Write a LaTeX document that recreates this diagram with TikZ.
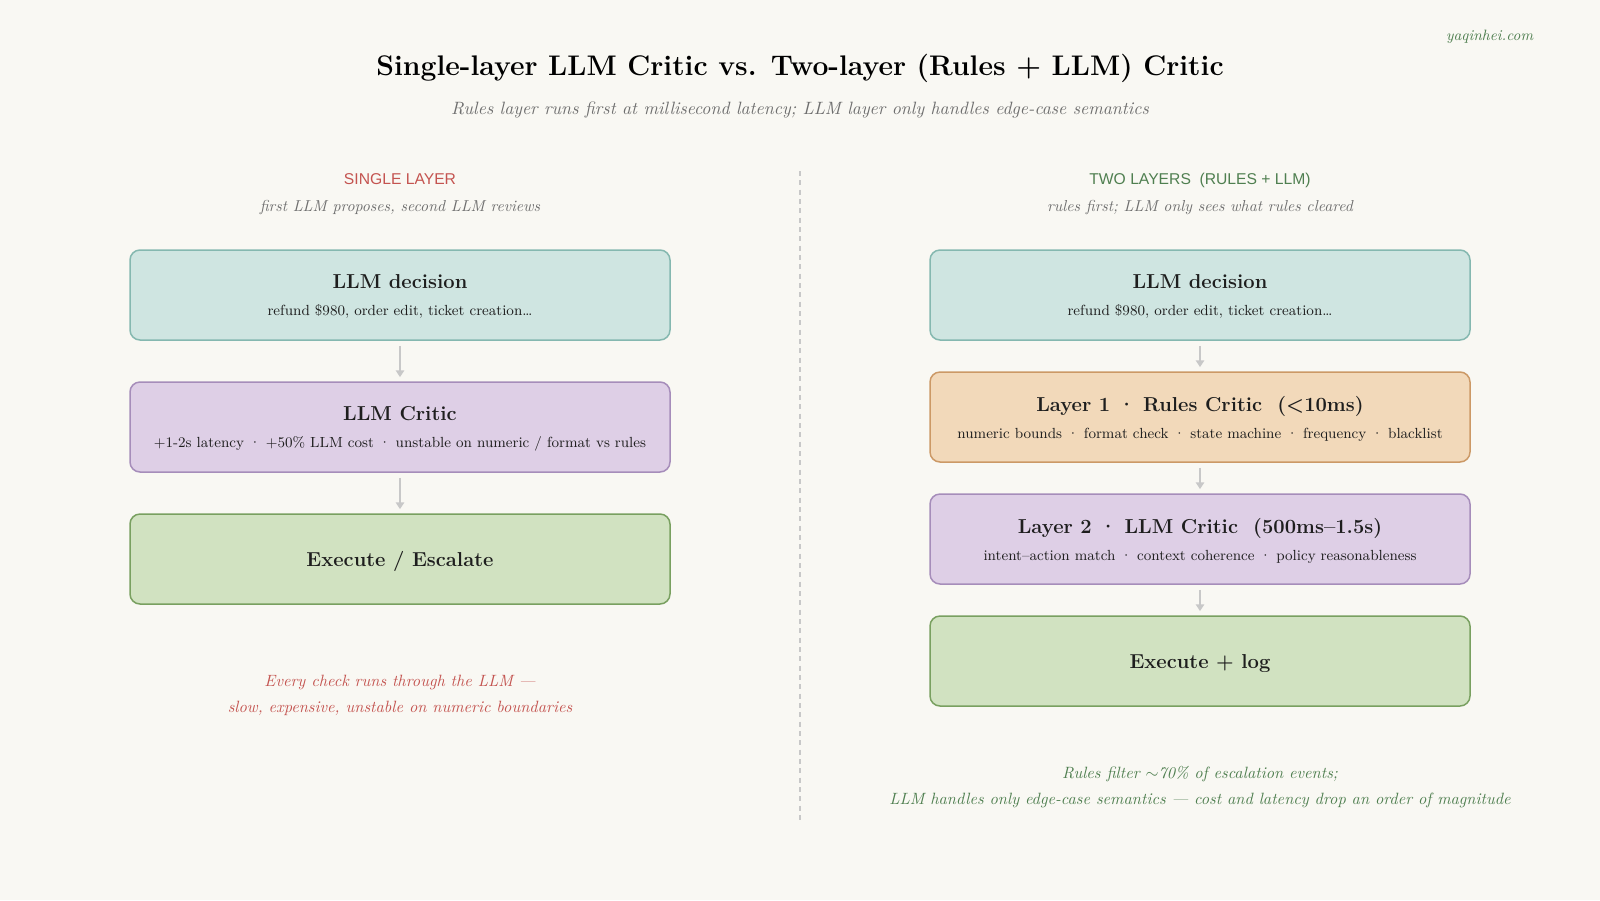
\documentclass[tikz,border=0pt]{standalone}
\usepackage{fontspec}
\usepackage{tikz}
\usetikzlibrary{positioning, arrows.meta, calc}
\newfontfamily\headfont{Liberation Sans}

\definecolor{bgcol}{HTML}{F9F8F3}
\definecolor{tealfill}{HTML}{CFE5E1}
\definecolor{tealline}{HTML}{85B8B0}
\definecolor{orangefill}{HTML}{F2D9BA}
\definecolor{orangeline}{HTML}{CC9966}
\definecolor{purplefill}{HTML}{DECFE6}
\definecolor{purpleline}{HTML}{A68DBA}
\definecolor{greenfill}{HTML}{D1E2C1}
\definecolor{greenline}{HTML}{79A060}
\definecolor{redtext}{HTML}{C45450}
\definecolor{greentext}{HTML}{4F7F50}
\definecolor{graytext}{HTML}{6E6E6E}
\definecolor{arrowgray}{HTML}{C8C8C8}
\definecolor{darktext}{HTML}{1E1E1E}

\newcommand{\boxtitle}[1]{{\bfseries\fontsize{12.1}{15}\selectfont #1}}
\newcommand{\boxsub}[1]{{\fontsize{8.8}{10}\selectfont #1}}
\newcommand{\sep}{\ \textperiodcentered\ }

\tikzset{
  card/.style={draw, rounded corners=6pt, line width=0.9pt, minimum width=324pt,
    minimum height=54pt, align=center, text=darktext, inner sep=0pt, text depth=0pt},
  decbox/.style={card, fill=tealfill, draw=tealline},
  rulebox/.style={card, fill=orangefill, draw=orangeline},
  critbox/.style={card, fill=purplefill, draw=purpleline},
  execbox/.style={card, fill=greenfill, draw=greenline},
  flow/.style={draw=arrowgray, line width=0.9pt, shorten <=3pt, shorten >=2.5pt,
    -{Triangle[width=5pt,length=4pt]}},
  colhead/.style={anchor=base, font=\headfont\fontsize{9.4}{11}\selectfont},
  colnote/.style={font=\itshape\fontsize{9.5}{12}\selectfont, text=graytext},
  footnote/.style={font=\itshape\fontsize{9.8}{15.6}\selectfont, align=center}
}

\begin{document}
\begin{tikzpicture}[x=0.6pt, y=-0.6pt]
  % background
  \fill[bgcol] (0,0) rectangle (1600,900);
  \useasboundingbox (0,0) rectangle (1600,900);

  % title
  \node (title) at (800,68) {\bfseries\fontsize{17}{20}\selectfont Single-layer LLM Critic vs. Two-layer (Rules + LLM) Critic};
  \node[colnote, font=\itshape\fontsize{10.7}{13}\selectfont] (subtitle) at (800,110) {Rules layer runs first at millisecond latency; LLM layer only handles edge-case semantics};
  \node[anchor=east, text=greentext, font=\itshape\fontsize{9}{11}\selectfont] (site) at (1539,37) {yaqinhei.com};

  % divider
  \draw[arrowgray, line width=0.7pt, dash pattern=on 3pt off 2.6pt] (800,171) -- (800,824);

  % left column
  \node[colhead, text=redtext] (lhead) at (400,184) {SINGLE LAYER};
  \node[colnote] (lnote) at (400,208) {first LLM proposes, second LLM reviews};

  \node[decbox] (ldec) at (400,295) {\boxtitle{LLM decision}\\[4.2pt]\boxsub{refund \$980, order edit, ticket creation…}};
  \node[critbox] (lcrit) at (400,427) {\boxtitle{LLM Critic}\\[4.2pt]\boxsub{+1-2s latency\sep +50\% LLM cost\sep unstable on numeric / format vs rules}};
  \node[execbox] (lexec) at (400,559) {\boxtitle{Execute / Escalate}};

  \draw[flow] (ldec) -- (lcrit);
  \draw[flow] (lcrit) -- (lexec);

  \node[footnote, text=redtext] (lfoot) at (400,695) {Every check runs through the LLM —\\slow, expensive, unstable on numeric boundaries};

  % right column
  \node[colhead, text=greentext] (rhead) at (1200,184) {TWO LAYERS\ \ (RULES + LLM)};
  \node[colnote] (rnote) at (1200,208) {rules first; LLM only sees what rules cleared};

  \node[decbox] (rdec) at (1200,295) {\boxtitle{LLM decision}\\[4.2pt]\boxsub{refund \$980, order edit, ticket creation…}};
  \node[rulebox] (rrules) at (1200,417) {\boxtitle{Layer 1\sep Rules Critic\ \ (<10ms)}\\[4.2pt]\boxsub{numeric bounds\sep format check\sep state machine\sep frequency\sep blacklist}};
  \node[critbox] (rcrit) at (1200,539) {\boxtitle{Layer 2\sep LLM Critic\ \ (500ms–1.5s)}\\[4.2pt]\boxsub{intent–action match\sep context coherence\sep policy reasonableness}};
  \node[execbox] (rexec) at (1200,661) {\boxtitle{Execute + log}};

  \draw[flow] (rdec) -- (rrules);
  \draw[flow] (rrules) -- (rcrit);
  \draw[flow] (rcrit) -- (rexec);

  \node[footnote, text=greentext] (rfoot) at (1200,787) {Rules filter $\sim$70\% of escalation events;\\LLM handles only edge-case semantics — cost and latency drop an order of magnitude};
\end{tikzpicture}
\end{document}
